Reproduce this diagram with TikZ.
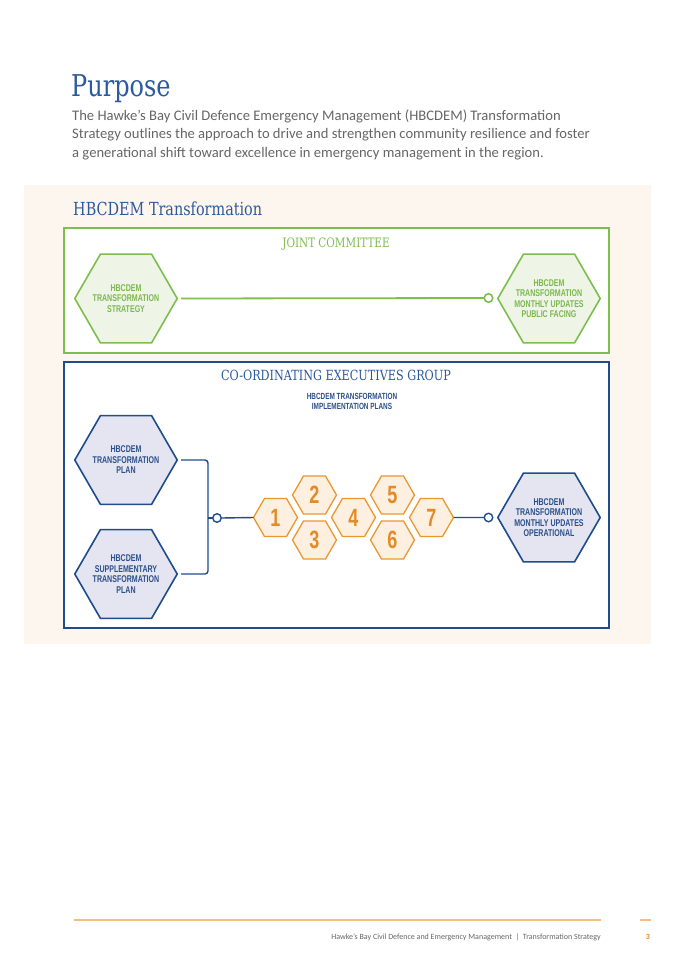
\documentclass[tikz,border=0pt]{standalone}
\usepackage{fontspec}
\usetikzlibrary{shapes.geometric}
\setmainfont{Carlito}
\newfontfamily\slabfont[FakeStretch=0.8]{DejaVu Serif}
\newfontfamily\condfont[FakeStretch=0.72]{Liberation Sans}
\definecolor{hblue}{HTML}{2B5A9E}
\definecolor{bodygray}{HTML}{666666}
\definecolor{cream}{HTML}{FDF6EE}
\definecolor{gline}{HTML}{7DBE4C}
\definecolor{gfill}{HTML}{EEF5E6}
\definecolor{gtext}{HTML}{7CB84E}
\definecolor{bline}{HTML}{1F4C8C}
\definecolor{bfill}{HTML}{E4E5F1}
\definecolor{btext}{HTML}{2C4F8A}
\definecolor{oline}{HTML}{E9982F}
\definecolor{ofill}{HTML}{FDF0E1}
\definecolor{otext}{HTML}{E38B24}
\definecolor{footorange}{HTML}{F5BE7C}
\begin{document}
\begin{tikzpicture}[x=1pt,y=-1pt,
  hexbase/.style={regular polygon, regular polygon sides=6, inner sep=0pt, outer sep=0pt,
    minimum size=102.4pt, line width=1.6pt},
  hextext/.style={inner sep=0pt, align=center,
    font=\condfont\bfseries\fontsize{9.8}{10.5}\selectfont},
  greenhex/.style={hexbase, draw=gline, fill=gfill},
  bluehex/.style={hexbase, draw=bline, fill=bfill},
  numhex/.style={regular polygon, regular polygon sides=6, inner sep=0pt, outer sep=0pt,
    minimum size=44pt, line width=1.3pt, draw=oline, fill=ofill, text=otext,
    font=\condfont\bfseries\fontsize{25}{25}\selectfont},
  ringnode/.style={circle, minimum size=8.5pt, inner sep=0pt, outer sep=0pt, fill=white},
  gconn/.style={draw=gline, line width=1.8pt},
  bconn/.style={draw=bline, line width=1.4pt},
  bodytext/.style={anchor=base west, inner sep=0pt, text=bodygray, font=\fontsize{14.6}{18}\selectfont},
  boxtitle/.style={anchor=base, inner sep=0pt, font=\slabfont\fontsize{14}{15}\selectfont}
]
\useasboundingbox[fill=white] (0,0) rectangle (675,962);
% cream panel
\fill[cream] (24,185) rectangle (651,644);

% headings and body
\node[anchor=base west, inner sep=0pt, text=hblue, font=\slabfont\fontsize{30}{32}\selectfont] (purpose) at (71,96) {Purpose};
\node[bodytext] (p1) at (72,120) {The Hawke’s Bay Civil Defence Emergency Management (HBCDEM) Transformation};
\node[bodytext] (p2) at (72,138.5) {Strategy outlines the approach to drive and strengthen community resilience and foster};
\node[bodytext] (p3) at (72,157) {a generational shift toward excellence in emergency management in the region.};
\node[anchor=base west, inner sep=0pt, text=hblue, font=\slabfont\fontsize{18}{19}\selectfont] (sect) at (73,215) {HBCDEM Transformation};

% joint committee box
\draw[draw=gline, line width=1.5pt, fill=white] (64,228) rectangle (609,353);
\node[boxtitle, text=gline, font=\slabfont\fontsize{13}{14}\selectfont] (jc) at (336,247) {JOINT COMMITTEE};
\node[greenhex] (strat) at (126,298.5) {};
\node[hextext, text=gtext] (strat-t) at (strat.center) {HBCDEM\\TRANSFORMATION\\STRATEGY};
\node[greenhex] (pubf) at (549,298.5) {};
\node[hextext, text=gtext] (pubf-t) at (pubf.center) {HBCDEM\\TRANSFORMATION\\MONTHLY UPDATES\\PUBLIC FACING};
\node[ringnode, draw=gline, line width=1.6pt] (gc) at (488.5,298) {};
\draw[gconn, shorten <=4pt] (strat.east) -- (gc.west);

% co-ordinating executives group box
\draw[draw=bline, line width=1.3pt, fill=white] (64,362) rectangle (609,628);
\node[boxtitle, text=hblue] (ceg) at (336,380) {CO-ORDINATING EXECUTIVES GROUP};
\node[inner sep=0pt, align=center, text=btext, font=\condfont\bfseries\fontsize{8.9}{9.5}\selectfont] (impl) at (352,401.5) {HBCDEM TRANSFORMATION\\IMPLEMENTATION PLANS};
\node[bluehex] (plan) at (126,460) {};
\node[hextext, text=btext] (plan-t) at (plan.center) {HBCDEM\\TRANSFORMATION\\PLAN};
\node[bluehex] (supp) at (126,574) {};
\node[hextext, text=btext] (supp-t) at (supp.center) {HBCDEM\\SUPPLEMENTARY\\TRANSFORMATION\\PLAN};
\node[bluehex] (ops) at (549,517.5) {};
\node[hextext, text=btext] (ops-t) at (ops.center) {HBCDEM\\TRANSFORMATION\\MONTHLY UPDATES\\OPERATIONAL};

\node[numhex] (n1) at (275.5,517.5) {1};
\node[numhex] (n2) at (314.5,495) {2};
\node[numhex] (n3) at (314.5,540) {3};
\node[numhex] (n4) at (353.5,517.5) {4};
\node[numhex] (n5) at (392.5,495) {5};
\node[numhex] (n6) at (392.5,540) {6};
\node[numhex] (n7) at (431.5,517.5) {7};

\coordinate (jn) at (208,518);
\node[ringnode, draw=bline, line width=1.4pt] (bc1) at (217,518) {};
\node[ringnode, draw=bline, line width=1.4pt] (bc2) at (488.5,517.5) {};
\draw[bconn, rounded corners=3pt, shorten <=4pt, shorten >=4pt]
  (plan.east) -- (plan.east -| jn) -- (supp.east -| jn) -- (supp.east);
\draw[bconn] (jn) -- (bc1.west);
\draw[bconn] (bc1.east) -- (n1.west);
\draw[bconn] (n7.east) -- (bc2.west);

% footer
\draw[footorange, line width=1.2pt] (74,920) -- (601,920);
\draw[footorange, line width=1.2pt] (640,920) -- (651,920);
\node[anchor=base east, inner sep=0pt, text=bodygray, font=\fontsize{8}{9}\selectfont] (foot) at (601,939)
  {Hawke’s Bay Civil Defence and Emergency Management \ | \ Transformation Strategy};
\node[anchor=base, inner sep=0pt, text=otext, font=\bfseries\fontsize{8}{9}\selectfont] (pg) at (648,939) {3};
\end{tikzpicture}
\end{document}
